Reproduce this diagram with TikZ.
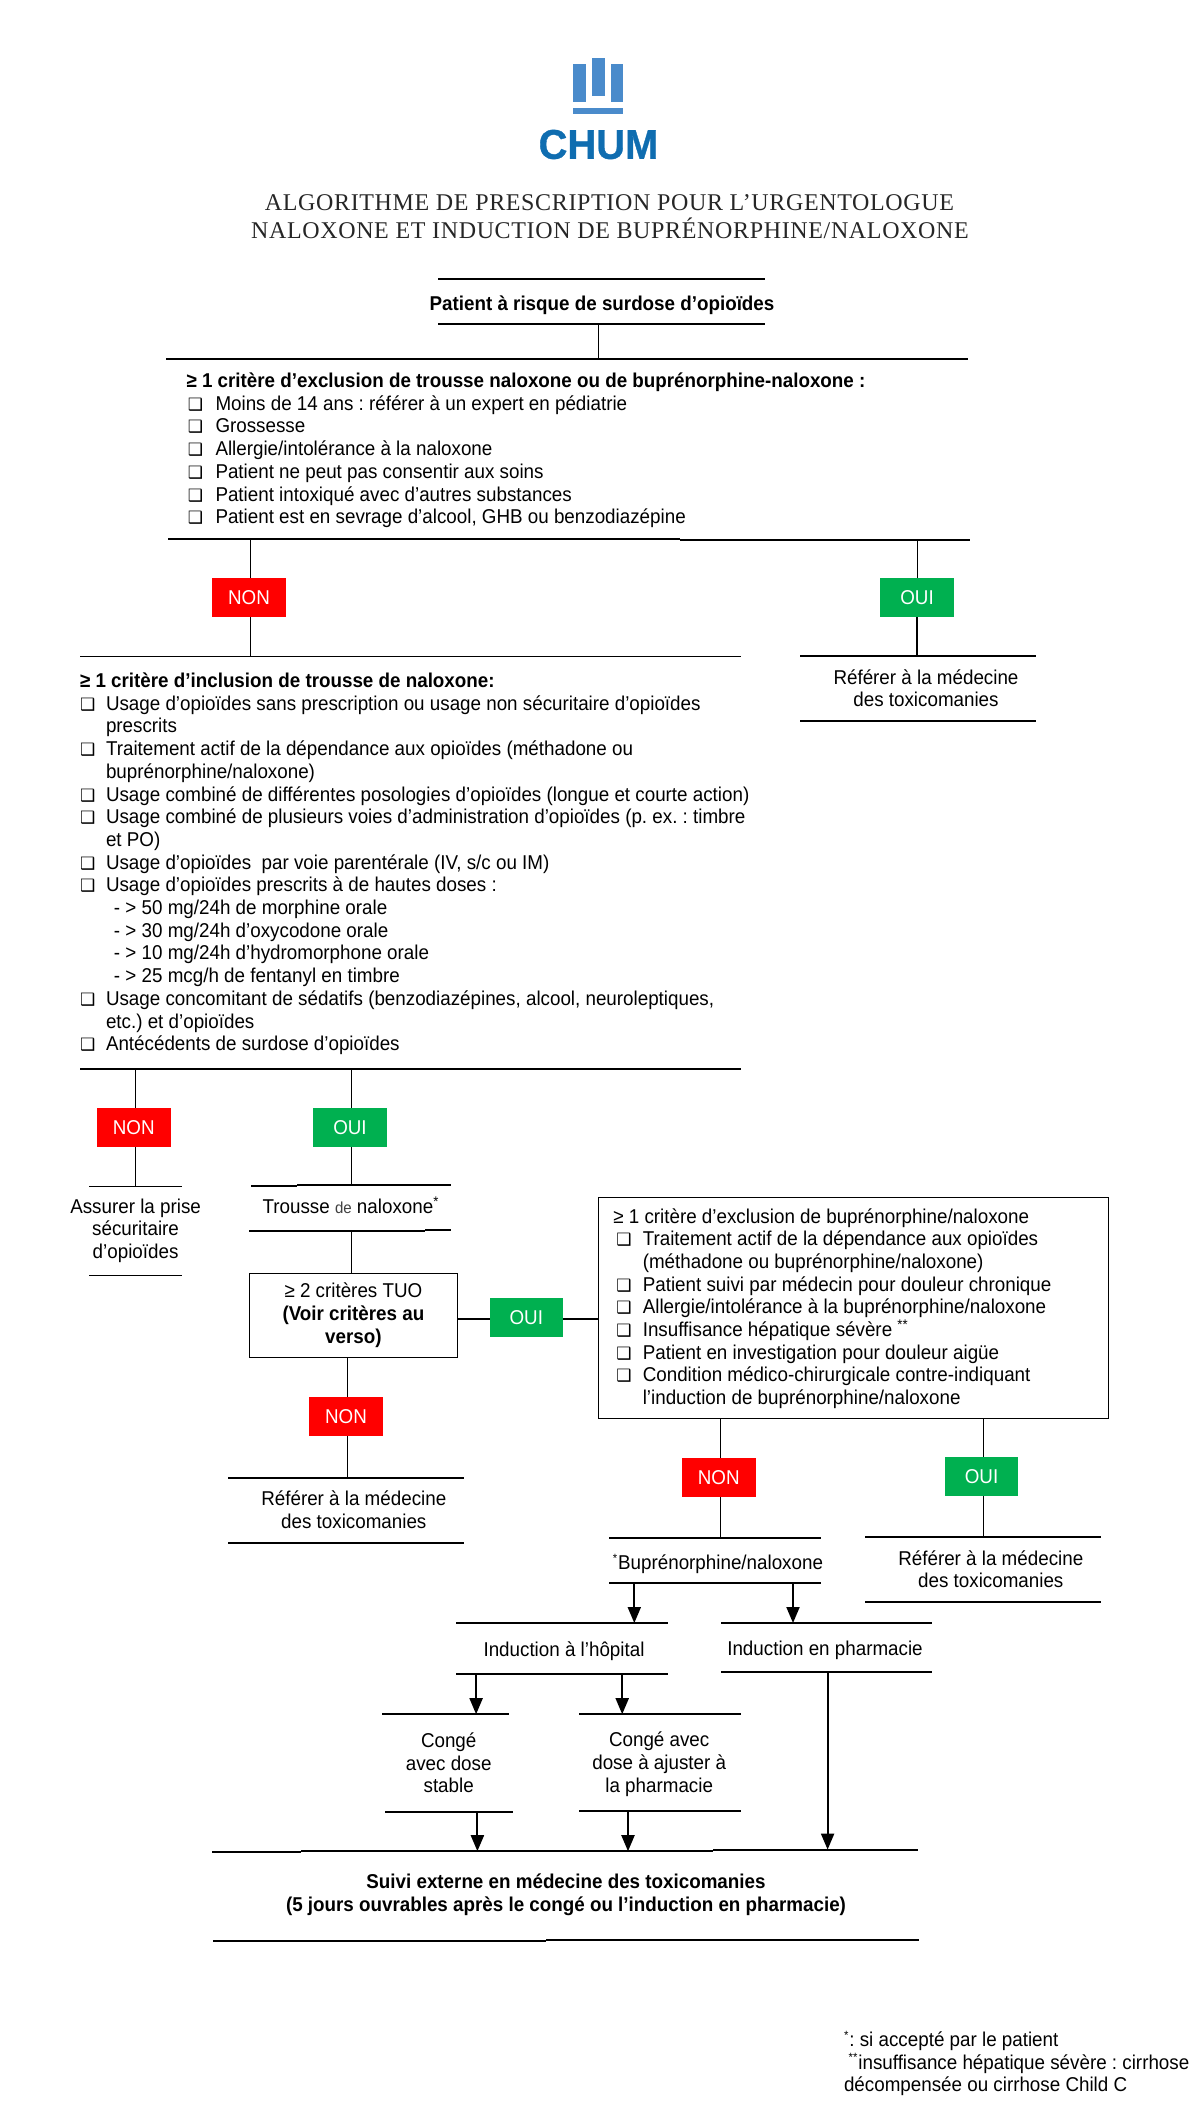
\documentclass[tikz,border=0pt]{standalone}
\usepackage{fontspec}
\usetikzlibrary{arrows.meta}
\setmainfont[FakeStretch=0.94]{Liberation Sans}
\newfontfamily\dejavu{DejaVu Sans}
\newfontfamily\titlefont[LetterSpace=2.7]{Liberation Serif}
\newfontfamily\logofont[FakeStretch=0.96,BoldFeatures={FakeBold=0.8}]{Liberation Sans}
\definecolor{nonred}{HTML}{FF0000}
\definecolor{ouigreen}{HTML}{00B050}
\definecolor{logolight}{HTML}{4A8BCB}
\definecolor{logodark}{HTML}{0F6DB0}
\frenchspacing
\newcommand\fs{\rule{0pt}{8pt}}
\newcommand\cbm{{\dejavu\fontsize{8.5}{9}\selectfont ❑}}
\newcommand\itema[1]{\makebox[14.5pt][l]{\hspace{0.7pt}\cbm}#1}
\newcommand\itemb[1]{\makebox[13pt][l]{\cbm}#1}
\newcommand\contb[1]{\makebox[13pt][l]{}#1}
\newcommand\subb[1]{\makebox[17pt][l]{}#1}
\newcommand\itemc[1]{\makebox[14.75pt][l]{\hspace{1.5pt}\cbm}#1}
\newcommand\contc[1]{\makebox[14.75pt][l]{}#1}
\newcommand\rulebar[5]{\node[barnode,minimum width={(#3-#2)*0.5pt},minimum height={#5*0.5pt}] (#1) at ({(#2+#3)/2},#4) {};}
\newcommand\vconn[4]{\draw[line width=#4*0.5pt] (#1,0 |- #2) -- (#1,0 |- #3);}
\newcommand\varrow[3]{\draw[flowarrow] (#1,0 |- #2) -- (#1,0 |- #3);}
\tikzset{
  barnode/.style={fill=black,inner sep=0pt,outer sep=0pt},
  txt/.style={inner sep=0pt,outer sep=0pt,anchor=north west,align=left,font=\fontsize{10}{11.35}\selectfont},
  ctr/.style={txt,anchor=north,align=center},
  answer/.style={inner sep=0pt,outer sep=0pt,minimum width=36.7pt,minimum height=19.5pt,text=white,font=\fontsize{10}{11.35}\selectfont},
  nonbox/.style={answer,fill=nonred},
  ouibox/.style={answer,fill=ouigreen},
  flowbox/.style={draw=black,line width=0.5pt,inner sep=0pt,outer sep=0pt,align=center,font=\fontsize{10}{11.35}\selectfont},
  flowarrow/.style={line width=1pt,-{Triangle[width=6.5pt,length=8pt]},shorten >=0pt},
  titletxt/.style={inner sep=0pt,outer sep=0pt,font=\titlefont\fontsize{12}{13}\selectfont,text=black!85}
}
\begin{document}
\begin{tikzpicture}[x=0.5pt,y=-0.5pt]
\useasboundingbox (0,0) rectangle (1200,2114);
% logo
\fill[logolight] (573.3,64.3) rectangle (586,102.3);
\fill[logolight] (592,58) rectangle (604.7,95.7);
\fill[logolight] (610.7,64.3) rectangle (623.3,102.3);
\fill[logolight] (573.3,108.3) rectangle (623.3,114.3);
\node[inner sep=0pt,text=logodark,font=\logofont\bfseries\fontsize{20.8}{22}\selectfont] (logotext) at (598.5,144.5) {CHUM};
% title
\node[titletxt] (title1) at (609.5,203) {ALGORITHME DE PRESCRIPTION POUR L’URGENTOLOGUE};
\node[titletxt] (title2) at (610,228.5) {NALOXONE ET INDUCTION DE BUPRÉNORPHINE/NALOXONE};
% start
\rulebar{patT}{437.8}{765.3}{279}{1.5}
\rulebar{patB}{437.8}{765.3}{324}{1.5}
\node[ctr,font=\bfseries\fontsize{10}{11.35}\selectfont] (patient) at (602,294) {\fs Patient à risque de surdose d’opioïdes};
\rulebar{exclT}{166}{968}{359}{1.5}
\vconn{598.5}{patB}{exclT}{1}
\node[txt] (excl) at (186.5,371.5) {\fs\textbf{≥ 1 critère d’exclusion de trousse naloxone ou de buprénorphine-naloxone :}\\
\itema{Moins de 14 ans : référer à un expert en pédiatrie}\\
\itema{Grossesse}\\
\itema{Allergie/intolérance à la naloxone}\\
\itema{Patient ne peut pas consentir aux soins}\\
\itema{Patient intoxiqué avec d’autres substances}\\
\itema{Patient est en sevrage d’alcool, GHB ou benzodiazépine}};
\rulebar{exclBa}{168}{679.6}{539}{1.5}
\rulebar{exclBb}{679.6}{970.4}{540}{1.5}
% first decision
\node[nonbox] (non1) at (249,597.5) {NON};
\node[ouibox] (oui1) at (917,597.5) {OUI};
\vconn{250.5}{exclBa}{non1.north}{1}
\vconn{917.5}{exclBb}{oui1.north}{1.5}
\rulebar{inclT}{80}{740.7}{656.4}{1.5}
\rulebar{refAT}{800}{1036}{656}{2.2}
\rulebar{refAB}{800}{1036}{721}{2.2}
\vconn{250.5}{non1.south}{inclT}{1.5}
\vconn{917}{oui1.south}{refAT}{1.5}
\node[ctr] (refA) at (926,668) {\fs Référer à la médecine\\des toxicomanies};
\node[txt] (incl) at (80,671.5) {\fs\textbf{≥ 1 critère d’inclusion de trousse de naloxone:}\\
\itemb{Usage d’opioïdes sans prescription ou usage non sécuritaire d’opioïdes}\\
\contb{prescrits}\\
\itemb{Traitement actif de la dépendance aux opioïdes (méthadone ou}\\
\contb{buprénorphine/naloxone)}\\
\itemb{Usage combiné de différentes posologies d’opioïdes (longue et courte action)}\\
\itemb{Usage combiné de plusieurs voies d'administration d’opioïdes (p. ex. : timbre}\\
\contb{et PO)}\\
\itemb{Usage d’opioïdes\ \ par voie parentérale (IV, s/c ou IM)}\\
\itemb{Usage d’opioïdes prescrits à de hautes doses :}\\
\subb{- > 50 mg/24h de morphine orale}\\
\subb{- > 30 mg/24h d’oxycodone orale}\\
\subb{- > 10 mg/24h d’hydromorphone orale}\\
\subb{- > 25 mcg/h de fentanyl en timbre}\\
\itemb{Usage concomitant de sédatifs (benzodiazépines, alcool, neuroleptiques,}\\
\contb{etc.) et d’opioïdes}\\
\itemb{Antécédents de surdose d’opioïdes}};
\rulebar{inclB}{80}{741}{1069}{2.2}
% second decision
\node[nonbox] (non2) at (133.8,1127.5) {NON};
\node[ouibox] (oui2) at (350,1127.5) {OUI};
\vconn{135.6}{inclB}{non2.north}{1}
\vconn{351}{inclB}{oui2.north}{1}
\rulebar{assT}{89.3}{181.9}{1186}{1}
\rulebar{assB}{89.3}{181.9}{1275}{1}
\vconn{135.6}{non2.south}{assT}{1}
\node[ctr] (assurer) at (135.6,1197) {\fs Assurer la prise\\sécuritaire\\d’opioïdes};
\rulebar{troTa}{250.6}{297}{1186}{1.5}
\rulebar{troTb}{297}{451.3}{1185}{1.5}
\rulebar{troBa}{249.2}{425}{1231}{1.5}
\rulebar{troBb}{425}{451.3}{1230}{1.5}
\vconn{351}{oui2.south}{troTb}{1}
\node[ctr] (trousse) at (351,1197) {\fs Trousse {\fontsize{8}{9}\selectfont\color{black!75}de} naloxone\textsuperscript{*}};
\node[flowbox,minimum width=104.2pt,minimum height=42pt] (tuo) at (353.4,1315) {≥ 2 critères TUO\\\textbf{(Voir critères au}\\\textbf{verso)}};
\vconn{351}{troBa}{tuo.north}{1}
% exclusion box
\node[flowbox,minimum width=255pt,minimum height=110.4pt] (cbox) at (853.5,1308) {};
\node[txt] (cboxtext) at (613.3,1207) {\fs ≥ 1 critère d’exclusion de buprénorphine/naloxone\\
\itemc{Traitement actif de la dépendance aux opioïdes}\\
\contc{(méthadone ou buprénorphine/naloxone)}\\
\itemc{Patient suivi par médecin pour douleur chronique}\\
\itemc{Allergie/intolérance à la buprénorphine/naloxone}\\
\itemc{Insuffisance hépatique sévère \textsuperscript{**}}\\
\itemc{Patient en investigation pour douleur aigüe}\\
\itemc{Condition médico-chirurgicale contre-indiquant}\\
\contc{l’induction de buprénorphine/naloxone}};
\node[ouibox] (oui3) at (526.3,1317.5) {OUI};
\draw[line width=1pt] (tuo.east |- 0,1319) -- (oui3.west |- 0,1319);
\draw[line width=1pt] (oui3.east |- 0,1319) -- (cbox.west |- 0,1319);
% TUO non
\node[nonbox] (non3) at (346,1416.5) {NON};
\vconn{347.4}{tuo.south}{non3.north}{1}
\rulebar{refBT}{228}{464}{1478}{2}
\rulebar{refBB}{228}{464}{1543}{2}
\vconn{347.4}{non3.south}{refBT}{1}
\node[ctr] (refB) at (353.8,1489.5) {\fs Référer à la médecine\\des toxicomanies};
% box decisions
\node[nonbox] (non4) at (718.8,1477.5) {NON};
\node[ouibox] (oui4) at (981.5,1476.5) {OUI};
\vconn{720.6}{cbox.south}{non4.north}{1}
\vconn{983}{cbox.south}{oui4.north}{1}
\rulebar{bupT}{608.8}{821}{1538}{2}
\rulebar{bupB}{608.8}{821}{1583}{2}
\vconn{720}{non4.south}{bupT}{1}
\rulebar{refCT}{865}{1101}{1537}{2}
\rulebar{refCB}{865}{1101}{1601.8}{2}
\vconn{983}{oui4.south}{refCT}{1}
\node[ctr] (refC) at (990.8,1549) {\fs Référer à la médecine\\des toxicomanies};
\node[ctr] (bup) at (717.9,1553.6) {\fs \textsuperscript{\fontsize{6}{7}\selectfont *}Buprénorphine/naloxone};
% inductions
\rulebar{hopT}{455.7}{668}{1623}{2}
\rulebar{hopB}{455.7}{668}{1673.8}{2}
\rulebar{phaT}{721}{932}{1623}{2}
\rulebar{phaB}{721}{932}{1671.9}{2}
\varrow{634.3}{bupB}{hopT}
\varrow{793}{bupB}{phaT}
\node[ctr] (hop) at (564,1640.6) {\fs Induction à l’hôpital};
\node[ctr] (pha) at (825,1639) {\fs Induction en pharmacie};
% conge
\rulebar{cgaT}{381.8}{509.3}{1714.2}{2}
\rulebar{cgaB}{385}{513}{1811.7}{2}
\rulebar{cgbT}{578.8}{740.8}{1714.2}{2}
\rulebar{cgbB}{578.8}{740.8}{1810.9}{2}
\varrow{476.1}{hopB}{cgaT}
\varrow{622.2}{hopB}{cgbT}
\node[ctr] (cga) at (448.7,1731.4) {\fs Congé\\avec dose\\stable};
\node[ctr] (cgb) at (659.2,1730.6) {\fs Congé avec\\dose à ajuster à\\la pharmacie};
% suivi
\rulebar{suiTa}{211.5}{300.8}{1852}{2}
\rulebar{suiTb}{300.8}{713.4}{1851.2}{2}
\rulebar{suiTc}{713.4}{918}{1849.6}{2}
\rulebar{suiBa}{212.8}{545.7}{1940.9}{2}
\rulebar{suiBb}{545.7}{918.8}{1940}{2}
\varrow{477.4}{cgaB}{suiTb}
\varrow{628}{cgbB}{suiTb}
\varrow{827.6}{phaB}{suiTc}
\node[ctr,font=\bfseries\fontsize{10}{11.35}\selectfont] (suivi) at (566,1872.4) {\fs Suivi externe en médecine des toxicomanies\\(5 jours ouvrables après le congé ou l’induction en pharmacie)};
% footnotes
\node[txt] (notes) at (844,2030.3) {\fs\textsuperscript{\fontsize{6}{7}\selectfont *}: si accepté par le patient\\
\hspace{2.3pt}\textsuperscript{\fontsize{6}{7}\selectfont **}insuffisance hépatique sévère : cirrhose\\
décompensée ou cirrhose Child C};
\end{tikzpicture}
\end{document}
